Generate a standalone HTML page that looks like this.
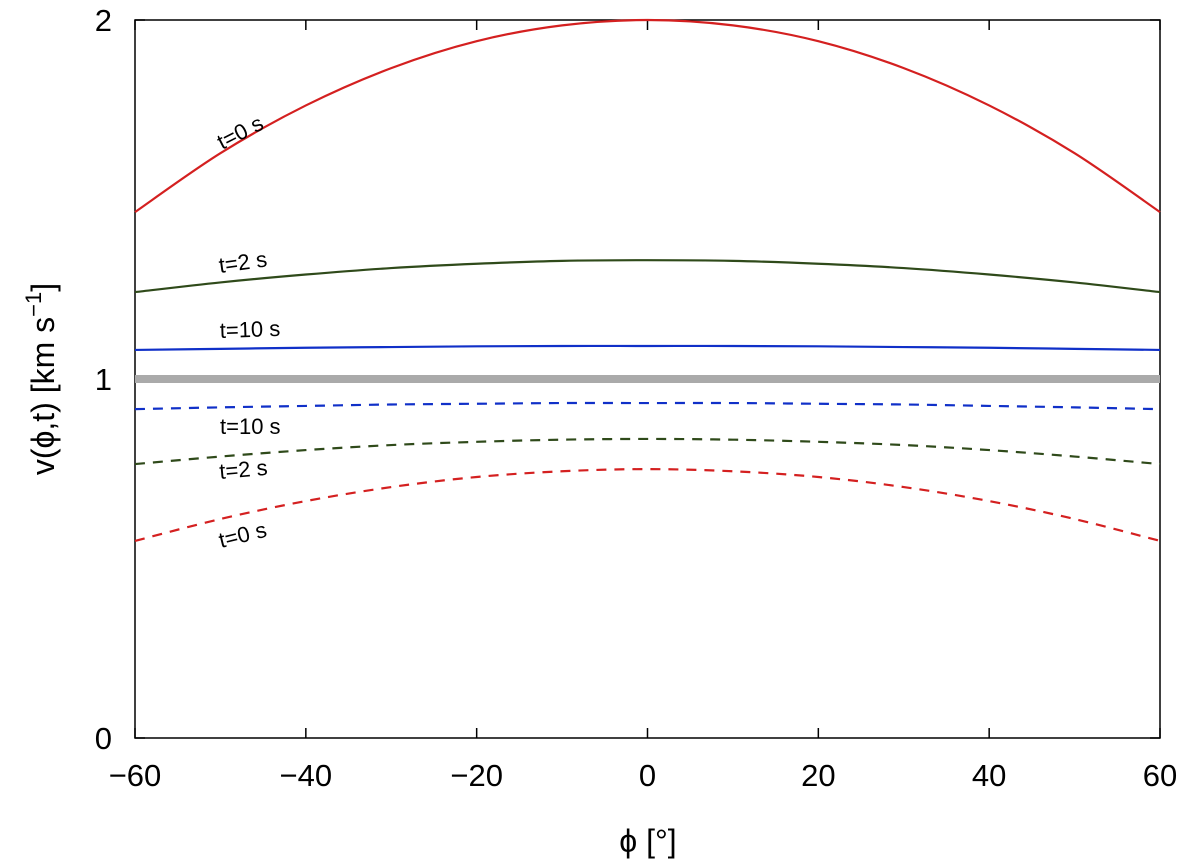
<!DOCTYPE html>
<html><head><meta charset="utf-8"><style>
body{margin:0;background:#fff}
svg{display:block;font-family:"Liberation Sans",sans-serif}
</style></head><body>
<svg id="chart" width="1200" height="861"></svg>
<script>
const phis=[-60,-50,-40,-30,-20,-10,0,10,20,30,40,50,60];
const redSolidHalf=[1.465,1.629,1.762,1.866,1.941,1.985,2.0];
const greenSolidHalf=[1.242,1.269,1.291,1.309,1.321,1.329,1.331];
const blueSolidHalf=[1.081,1.084,1.087,1.089,1.091,1.092,1.092];
const blueDashHalf=[0.916,0.921,0.925,0.929,0.931,0.933,0.933];
const greenDashHalf=[0.763,0.784,0.802,0.816,0.825,0.831,0.833];
const redDashHalf=[0.549,0.610,0.660,0.699,0.727,0.743,0.749];
const xTicks=[-60,-40,-20,0,20,40,60];
const yTicks=[0,1,2];
const refLevel=1;
function mirror(h){return h.concat(h.slice(0,-1).reverse());}
const L=135,R=1160,T=20,B=738;
const xs=v=>L+(v+60)/120*(R-L);
const ys=v=>B-v/2*(B-T);
const svg=document.getElementById('chart');
const NS='http://www.w3.org/2000/svg';
function mk(tag,a,parent){const e=document.createElementNS(NS,tag);for(const k in a)e.setAttribute(k,a[k]);(parent||svg).appendChild(e);return e;}
let e=mk('rect',{x:L,y:T,width:R-L,height:B-T,fill:'none',stroke:'#000','stroke-width':1.5});


xTicks.forEach(t=>{const x=xs(t);
 mk('line',{x1:x,x2:x,y1:B,y2:B-10,stroke:'#000','stroke-width':1.5});
 mk('line',{x1:x,x2:x,y1:T,y2:T+10,stroke:'#000','stroke-width':1.5});
 const tx=mk('text',{x:x,y:786,'text-anchor':'middle','font-size':31});
 tx.textContent=(t<0?'\u2212':'')+Math.abs(t);
 
 
});
yTicks.forEach(t=>{const y=ys(t);
 mk('line',{x1:L,x2:L+10,y1:y,y2:y,stroke:'#000','stroke-width':1.5});
 mk('line',{x1:R,x2:R-10,y1:y,y2:y,stroke:'#000','stroke-width':1.5});
 const tx=mk('text',{x:112,y:y+11,'text-anchor':'end','font-size':31});
 tx.textContent=t;
 
 
});
e=mk('line',{x1:L,x2:R,y1:ys(refLevel),y2:ys(refLevel),stroke:'#aaa','stroke-width':8});


const series=[
 [redSolidHalf,'#d42020',null,'red-solid-curve'],
 [greenSolidHalf,'#2f4a1a',null,'green-solid-curve'],
 [blueSolidHalf,'#1030c8',null,'blue-solid-curve'],
 [blueDashHalf,'#1030c8','10,8','blue-dashed-curve'],
 [greenDashHalf,'#2f4a1a','10,8','green-dashed-curve'],
 [redDashHalf,'#d42020','10,8','red-dashed-curve']];
series.forEach(s=>{const v=mirror(s[0]);
 const pts=phis.map((p,i)=>[xs(p),ys(v[i])]);
 let d='M'+pts[0][0]+','+pts[0][1];
 for(let i=0;i<pts.length-1;i++){const p0=pts[Math.max(0,i-1)],p1=pts[i],p2=pts[i+1],p3=pts[Math.min(pts.length-1,i+2)];
  d+=' C'+(p1[0]+(p2[0]-p0[0])/6)+','+(p1[1]+(p2[1]-p0[1])/6)+' '+(p2[0]-(p3[0]-p1[0])/6)+','+(p2[1]-(p3[1]-p1[1])/6)+' '+p2[0]+','+p2[1];}
 const a={d:d,fill:'none',stroke:s[1],'stroke-width':2.2};if(s[2])a['stroke-dasharray']=s[2];
 const p=mk('path',a);
 
 
});
const labels=[['t=0 s',222,150,-27],['t=2 s',220,273,-8],['t=10 s',220,338,-2],['t=10 s',220,434,0],['t=2 s',220,479,-5],['t=0 s',221,548,-14]];
labels.forEach(l=>{const t=mk('text',{x:l[1],y:l[2],'font-size':22,transform:'rotate('+l[3]+' '+l[1]+' '+l[2]+')'});
 t.textContent=l[0];
 
 
});
e=mk('text',{x:648,y:852,'text-anchor':'middle','font-size':32});
e.textContent='\u03d5 [\u00b0]';


e=mk('text',{x:0,y:0,'text-anchor':'middle','font-size':32,transform:'translate(54,379) rotate(-90)'});
e.innerHTML='v(\u03d5,t) [km s<tspan dy="-13" font-size="22">\u22121</tspan><tspan dy="13">]</tspan>';


</script>
</body></html>
